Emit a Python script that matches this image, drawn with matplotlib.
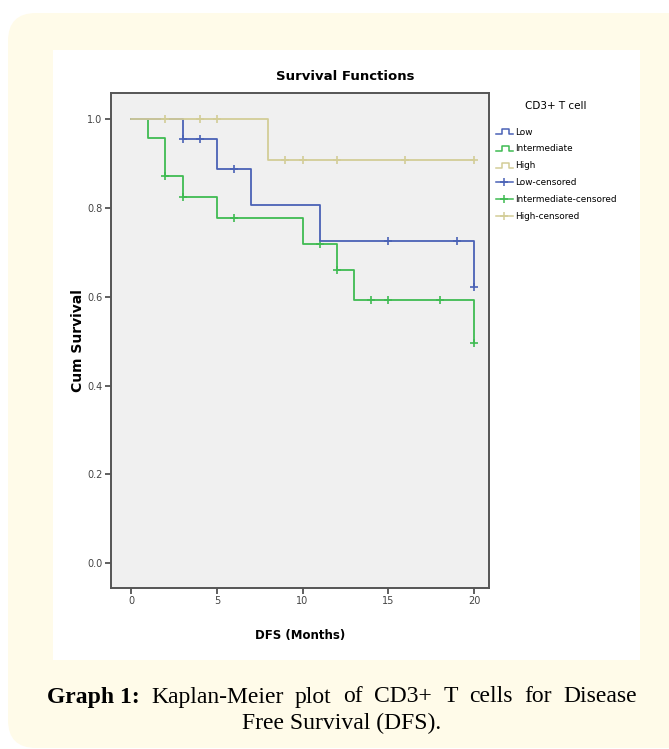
import matplotlib
matplotlib.use("Agg")
import matplotlib.pyplot as plt
from matplotlib.patches import FancyBboxPatch, Rectangle
from matplotlib.lines import Line2D
from matplotlib.legend_handler import HandlerBase

# Kaplan-Meier steps (time in months, cumulative survival)
low_t = [0, 3, 5, 7, 11, 20]
low_s = [1.0, 0.955, 0.887, 0.806, 0.725, 0.622]
inter_t = [0, 1, 2, 3, 5, 10, 12, 13, 20]
inter_s = [1.0, 0.957, 0.872, 0.824, 0.777, 0.718, 0.66, 0.592, 0.495]
high_t = [0, 8, 20]
high_s = [1.0, 0.909, 0.909]

# censored observations
low_cens_t = [3, 4, 6, 15, 19, 20]
low_cens_s = [0.955, 0.955, 0.887, 0.725, 0.725, 0.622]
inter_cens_t = [2, 3, 6, 11, 12, 14, 15, 18, 20]
inter_cens_s = [0.872, 0.824, 0.777, 0.718, 0.66, 0.592, 0.592, 0.592, 0.495]
high_cens_t = [2, 4, 5, 9, 10, 12, 16, 20]
high_cens_s = [1.0, 1.0, 1.0, 0.909, 0.909, 0.909, 0.909, 0.909]

x_ticks = [0, 5, 10, 15, 20]
y_ticks = [0.0, 0.2, 0.4, 0.6, 0.8, 1.0]
group_names = ["Low", "Intermediate", "High"]

c_low = "#4a62b6"
c_inter = "#3fbb52"
c_high = "#d3cd97"

W, H = 669, 749
fig = plt.figure(figsize=(W / 100, H / 100), dpi=100)
fig.patch.set_facecolor("white")

# page background: cream rounded box + white panel
bg = fig.add_axes([0, 0, 1, 1])
bg.set_xlim(0, W)
bg.set_ylim(H, 0)
bg.axis("off")
bg.add_patch(FancyBboxPatch((8, 13), 690, 735, boxstyle="round,pad=0,rounding_size=28",
                            facecolor="#fffbe9", edgecolor="none"))
bg.add_patch(Rectangle((53, 50), 587, 610, facecolor="white", edgecolor="none"))

ax = fig.add_axes([111 / W, 1 - 588 / H, 378 / W, 495 / H])
ax.set_facecolor("#f0f0f0")

ax.step(inter_t, inter_s, where="post", color=c_inter, lw=1.3, zorder=2)
ax.step(low_t, low_s, where="post", color=c_low, lw=1.3, zorder=3)
ax.step(high_t, high_s, where="post", color=c_high, lw=1.3, zorder=4)
ax.plot(inter_cens_t, inter_cens_s, "+", color=c_inter, ms=6, mew=1.2, zorder=2)
ax.plot(low_cens_t, low_cens_s, "+", color=c_low, ms=6, mew=1.2, zorder=3)
ax.plot(high_cens_t, high_cens_s, "+", color=c_high, ms=6, mew=1.2, zorder=4)

ax.set_xlim(-1.17, 20.87)
ax.set_ylim(-0.056, 1.059)
ax.set_xticks(x_ticks)
ax.set_yticks(y_ticks)
ax.set_yticklabels(["%.1f" % v for v in y_ticks])
ax.tick_params(direction="out", length=4, width=1.2, color="#444444",
               labelsize=7, labelcolor="#444444", pad=2)
for sp in ax.spines.values():
    sp.set_color("#555555")
    sp.set_linewidth(1.4)

ax.set_xlabel("DFS (Months)", fontsize=8.5, fontweight="bold", labelpad=16)
ax.set_ylabel("Cum Survival", fontsize=10, fontweight="bold", labelpad=2)
fig.text(345 / W, 1 - 77 / H, "Survival Functions", ha="center", va="center",
         fontsize=9.5, fontweight="bold")


class StepHandler(HandlerBase):
    def create_artists(self, legend, orig_handle, xdescent, ydescent, width, height, fontsize, trans):
        xs = [-xdescent, -xdescent + width * 0.35, -xdescent + width * 0.35,
              -xdescent + width * 0.75, -xdescent + width * 0.75, -xdescent + width]
        lo, hi = -ydescent + height * 0.05, -ydescent + height * 0.9
        ys = [lo, lo, hi, hi, lo, lo]
        ln = Line2D(xs, ys, color=orig_handle.get_color(), lw=1.1, transform=trans)
        return [ln]


step_handles = [Line2D([], [], color=c) for c in (c_low, c_inter, c_high)]
cens_handles = [Line2D([], [], color=c, marker="+", ms=6, mew=1.1, lw=1.1)
                for c in (c_low, c_inter, c_high)]
labels = group_names + [g + "-censored" for g in group_names]
handler_map = {h: StepHandler() for h in step_handles}
leg = fig.legend(step_handles + cens_handles, labels, handler_map=handler_map,
                 loc="upper left", bbox_to_anchor=(496 / W, 1 - 101 / H),
                 frameon=False, fontsize=6.4, title="CD3+ T cell", title_fontsize=7.5,
                 handlelength=1.9, handletextpad=0.2, labelspacing=0.88,
                 borderaxespad=0, borderpad=0)
leg._legend_box.sep = 12

# caption, first line justified between x=47 and x=637
cap_words = ["Kaplan-Meier", "plot", "of", "CD3+", "T", "cells", "for", "Disease"]
cap_font = dict(fontsize=17, family="Liberation Serif")
y1 = 1 - 697 / H
head = fig.text(47 / W, y1, "Graph 1:", ha="left", va="center", fontweight="bold", **cap_font)
renderer = fig.canvas.get_renderer()
word_txt = [fig.text(0, y1, w, ha="left", va="center", **cap_font) for w in cap_words]
head_w = head.get_window_extent(renderer).width
widths = [t.get_window_extent(renderer).width for t in word_txt]
gap = (637 - 47 - head_w - sum(widths)) / len(cap_words)
x = 47 + head_w + gap
for t, w in zip(word_txt, widths):
    t.set_x(x / W)
    x += w + gap
fig.text(342 / W, 1 - 723 / H, "Free Survival (DFS).", ha="center", va="center", **cap_font)

fig.savefig("out.png", dpi=100)
